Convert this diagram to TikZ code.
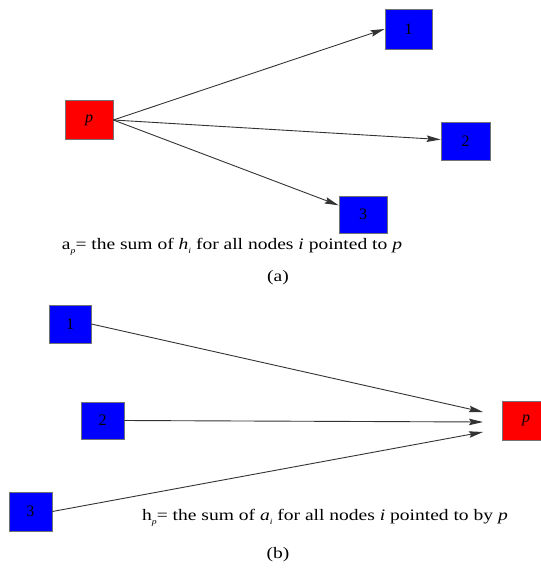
\documentclass[tikz,border=0pt]{standalone}
\usepackage{fontspec}
\setmainfont{Liberation Serif}
\usetikzlibrary{arrows.meta}
\newcommand{\lowsub}[1]{\raisebox{-0.5ex}{\fontsize{8}{9}\selectfont\textit{#1}}}
\newcommand{\widetext}[1]{\scalebox{1.22}[1]{#1}}
\begin{document}
\begin{tikzpicture}[x=1pt,y=-1pt,
  box/.style={draw=black!55,line width=0.7pt,minimum width=48pt,minimum height=39pt,inner sep=0pt,font=\fontsize{16}{18}\selectfont},
  bluebox/.style={box,fill=blue},
  redbox/.style={box,fill=red},
  conn/.style={draw=black!80,line width=0.9pt,-{Stealth[length=14pt,width=6.5pt,inset=2pt]}},
  captext/.style={font=\fontsize{16}{18}\selectfont,inner sep=0pt}]
\useasboundingbox (0,0) rectangle (541,568);
% (a)
\node[redbox] (pa) at (89,120) {\textit{p}};
\node[bluebox,minimum width=47pt,minimum height=40pt] (a1) at (408.5,29) {1};
\node[bluebox,minimum width=49pt,minimum height=38pt] (a2) at (465.5,141) {2};
\node[bluebox,minimum width=48pt,minimum height=37pt] (a3) at (363,214.5) {3};
\draw[conn] (pa.east) -- (a1.west);
\draw[conn] (pa.east) -- (a2);
\draw[conn] (pa.east) -- (a3);
\node[captext] (capa) at (232,247) {\widetext{a\lowsub{p}= the sum of \textit{h}\lowsub{i} for all nodes \textit{i} pointed to \textit{p}}};
\node[captext] (laba) at (278,278) {\widetext{(a)}};
% (b)
\node[bluebox,minimum width=42pt,minimum height=38pt] (b1) at (70,324) {1};
\node[bluebox,minimum width=43pt,minimum height=37pt] (b2) at (102.5,420.5) {2};
\node[bluebox,minimum width=43pt,minimum height=39pt] (b3) at (30.5,511.5) {3};
\node[redbox] (pb) at (526,420.5) {\textit{p}};
\coordinate (t1) at (483,412);
\coordinate (t2) at (483,422);
\coordinate (t3) at (483,432);
\draw[conn] (b1.east) -- (t1);
\draw[conn] (b2.east) -- (t2);
\draw[conn] (b3.east) -- (t3);
\node[captext] (capb) at (325,518) {\widetext{h\lowsub{p}= the sum of \textit{a}\lowsub{i} for all nodes \textit{i} pointed to by \textit{p}}};
\node[captext] (labb) at (278,555) {\widetext{(b)}};
\end{tikzpicture}
\end{document}
